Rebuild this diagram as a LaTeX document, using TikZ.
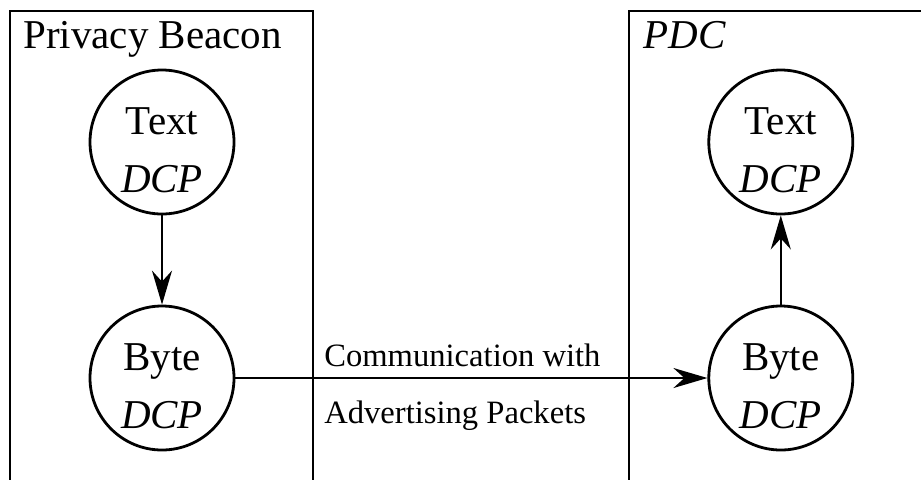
\documentclass[tikz,border=0pt]{standalone}
\usepackage{fontspec}
\setmainfont{Liberation Serif}
\usepackage{tikz}
\usetikzlibrary{arrows.meta,positioning}

\newcommand{\dcptext}[1]{\rule{0pt}{22pt}#1\\\textit{DCP}}

\begin{document}
\begin{tikzpicture}[
    x=0.5pt, y=-0.5pt,
    node distance=44.6pt,
    dcp/.style={draw, circle, line width=1.4pt, minimum size=72pt, inner sep=0pt, align=center, font=\fontsize{20.5}{29}\selectfont},
    title/.style={anchor=base west, inner sep=0pt, font=\fontsize{20.5}{24}\selectfont},
    device/.style={draw, line width=1pt},
    arrow/.style={-{Stealth[length=17pt, width=10pt, inset=5.5pt]}, line width=1pt}
]
    \clip (0,0) rectangle (921,479);

    % Devices
    \draw[device] (10,11) rectangle (313,520);
    \draw[device] (629,11) rectangle (960,520);
    \node[title] (beacon) at (23,48) {Privacy Beacon};
    \node[title] (pdc) at (643,48) {\textit{PDC}};

    % Protocol layers
    \node[dcp] (btext) at (162,142) {\dcptext{Text}};
    \node[dcp, below=of btext] (bbyte) {\dcptext{Byte}};
    \node[dcp, right=236pt of bbyte] (pbyte) {\dcptext{Byte}};
    \node[dcp, above=of pbyte] (ptext) {\dcptext{Text}};

    % Arrows
    \draw[arrow] (btext) -- (bbyte);
    \draw[arrow] (pbyte) -- (ptext);
    \draw[arrow] (bbyte) -- node[xshift=-4.5pt, yshift=-4.5pt, align=left, font=\fontsize{16.3}{28.5}\selectfont] (link) {Communication with\\Advertising Packets} (pbyte);

\end{tikzpicture}
\end{document}
